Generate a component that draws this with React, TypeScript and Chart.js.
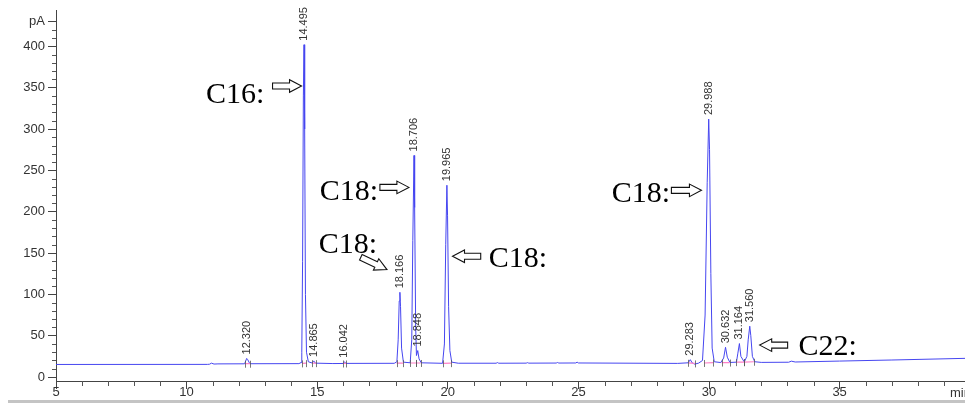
import React, { useEffect, useRef } from "react";
import { Chart, registerables } from "chart.js";

Chart.register(...registerables);

// ---- Chromatogram signal (retention time in min, signal in pA) ----
const retentionTimes = [
  5.0, 10.8, 10.88, 10.95, 11.05, 11.2, 12.22, 12.3, 12.34, 12.42,
  14.3, 14.38, 14.41, 14.44, 14.47, 14.495, 14.52, 14.55, 14.59, 14.66,
  14.8, 14.865, 14.93, 15.6, 16.0, 16.042, 16.1, 17.95, 18.05, 18.1,
  18.14, 18.166, 18.19, 18.23, 18.3, 18.56, 18.62, 18.66, 18.706, 18.73,
  18.77, 18.8, 18.848, 18.9, 18.98, 19.8, 19.87, 19.92, 19.965, 19.99,
  20.03, 20.08, 20.15, 20.4, 21.85, 21.9, 21.95, 23.0, 23.05, 23.1,
  24.15, 24.2, 24.25, 24.9, 24.95, 25.0, 28.8, 29.2, 29.283, 29.36,
  29.45, 29.6, 29.75, 29.85, 29.93, 29.988, 30.02, 30.07, 30.12, 30.2,
  30.45, 30.56, 30.632, 30.7, 30.8, 31.05, 31.1, 31.164, 31.22, 31.35,
  31.45, 31.5, 31.56, 31.6, 31.66, 31.75, 32.0, 33.05, 33.15, 33.3,
  35.0, 37.0, 39.8,
];
const signalPA = [
  15.2, 15.3, 15.5, 16.8, 15.7, 15.9, 16.0, 22.5, 21.0, 16.1,
  16.2, 17.5, 30, 140, 340, 402, 300, 100, 30, 18.5,
  17.0, 19.5, 16.8, 16.3, 16.4, 18.5, 16.5, 16.6, 18.5, 45,
  92, 102.5, 85, 35, 18, 17.2, 45, 165, 268, 205,
  60, 26, 32, 22, 17.2, 16.6, 40, 160, 232, 195,
  85, 32, 18, 16.7, 16.7, 17.5, 16.7, 16.8, 17.4, 16.8,
  16.9, 17.6, 16.9, 17.0, 18.0, 17.0, 16.5, 17.2, 21.0, 17.0,
  15.6, 16.8, 20, 75, 235, 312, 275, 125, 35, 18.5,
  17.5, 23, 36, 24, 17.6, 18.0, 28, 40.5, 25, 18.2,
  25, 45, 61.5, 50, 25, 18.5, 17.7, 17.9, 19.2, 18.2,
  19.3, 20.6, 22.6,
];

// ---- Peak annotations (apex retention time and apex height) ----
const peakTimes = [12.32, 14.495, 14.865, 16.042, 18.166, 18.706, 18.848, 19.965, 29.283, 29.988, 30.632, 31.164, 31.56];
const peakHeights = [22.5, 402, 19.5, 18.5, 102.5, 268, 32, 232, 21, 312, 36, 40.5, 61.5];
const peakLabels = ["12.320", "14.495", "14.865", "16.042", "18.166", "18.706", "18.848", "19.965", "29.283", "29.988", "30.632", "31.164", "31.560"];

// ---- Integration baselines ----
const integStart = [12.25, 14.43, 14.8, 16.0, 18.04, 18.57, 18.78, 19.82, 29.2, 29.81, 30.48, 31.05, 31.33];
const integEnd = [12.42, 14.59, 14.95, 16.1, 18.29, 18.78, 18.96, 20.14, 29.45, 30.16, 30.79, 31.33, 31.72];
const integLevelStart = [16.1, 16.5, 16.8, 16.4, 16.8, 17.0, 17.0, 16.6, 17.2, 17.0, 17.5, 18.0, 18.0];
const integLevelEnd = [16.1, 16.8, 16.8, 16.4, 16.8, 17.0, 17.0, 16.8, 16.5, 17.5, 17.5, 18.0, 18.5];

// ---- Axes ----
const xMin = 5;
const xMax = 39.8;
const yMin = -4.8;
const yMax = 443;
const xMajorTicks = [5, 10, 15, 20, 25, 30, 35];
const xMinorTicks = [6, 7, 8, 9, 11, 12, 13, 14, 16, 17, 18, 19, 21, 22, 23, 24, 26, 27, 28, 29, 31, 32, 33, 34, 36, 37, 38, 39];
const yMajorTicks = [0, 50, 100, 150, 200, 250, 300, 350, 400];
const yUnitTick = 430;
const yUnitLabel = "pA";
const xUnitLabel = "min";

// ---- Text callouts (data coordinates) ----
const calloutTexts = ["C16:", "C18:", "C18:", "C18:", "C18:", "C22:"];
const calloutTextX = [10.74, 15.1, 15.06, 21.57, 26.28, 33.43];
const calloutTextY = [332, 213.7, 149.7, 133.2, 211.6, 26.6];
const arrowTailX = [13.29, 17.4, 16.67, 21.26, 28.56, 33.01];
const arrowTailY = [352, 229.4, 144.9, 146.1, 225.8, 38.6];
const arrowTipX = [14.4, 18.51, 17.67, 20.18, 29.71, 31.94];
const arrowTipY = [352, 229.4, 130.0, 146.1, 225.8, 38.6];

const SANS = '"Liberation Sans", Arial, sans-serif';
const SERIF = '"Liberation Serif", "Times New Roman", serif';

function drawBlockArrow(ctx: CanvasRenderingContext2D, x0: number, y0: number, x1: number, y1: number) {
  const dx = x1 - x0;
  const dy = y1 - y0;
  const len = Math.hypot(dx, dy);
  const ux = dx / len;
  const uy = dy / len;
  const nx = -uy;
  const ny = ux;
  const headLen = 12;
  const shaftHalf = 3;
  const headHalf = 6.3;
  const neckX = x1 - ux * headLen;
  const neckY = y1 - uy * headLen;
  ctx.save();
  ctx.beginPath();
  ctx.moveTo(x0 + nx * shaftHalf, y0 + ny * shaftHalf);
  ctx.lineTo(neckX + nx * shaftHalf, neckY + ny * shaftHalf);
  ctx.lineTo(neckX + nx * headHalf, neckY + ny * headHalf);
  ctx.lineTo(x1, y1);
  ctx.lineTo(neckX - nx * headHalf, neckY - ny * headHalf);
  ctx.lineTo(neckX - nx * shaftHalf, neckY - ny * shaftHalf);
  ctx.lineTo(x0 - nx * shaftHalf, y0 - ny * shaftHalf);
  ctx.closePath();
  ctx.fillStyle = "#ffffff";
  ctx.fill();
  ctx.strokeStyle = "#111111";
  ctx.lineWidth = 1.1;
  ctx.stroke();
  ctx.restore();
}

const overlayPlugin = {
  id: "chromOverlay",
  afterDraw(chart: any) {
    const { ctx, chartArea } = chart;
    const xs = chart.scales.x;
    const ys = chart.scales.y;
    ctx.save();

    // minor ticks
    ctx.strokeStyle = "#555555";
    ctx.lineWidth = 1;
    ctx.beginPath();
    for (let v = 10; v < yUnitTick + 1; v += 10) {
      if (yMajorTicks.includes(v) || v === yUnitTick) continue;
      const py = Math.round(ys.getPixelForValue(v)) + 0.5;
      ctx.moveTo(chartArea.left - 4, py);
      ctx.lineTo(chartArea.left, py);
    }
    xMinorTicks.forEach((v) => {
      const px = Math.round(xs.getPixelForValue(v)) + 0.5;
      ctx.moveTo(px, chartArea.bottom);
      ctx.lineTo(px, chartArea.bottom + 5);
    });
    ctx.stroke();

    // integration boundary markers
    ctx.strokeStyle = "#555555";
    ctx.lineWidth = 0.8;
    ctx.beginPath();
    for (let i = 0; i < integStart.length; i++) {
      const pts: [number, number][] = [
        [integStart[i], integLevelStart[i]],
        [integEnd[i], integLevelEnd[i]],
      ];
      pts.forEach(([t, l]) => {
        const px = Math.round(xs.getPixelForValue(t)) + 0.5;
        const py = ys.getPixelForValue(l);
        ctx.moveTo(px, py - 3);
        ctx.lineTo(px, py + 4);
      });
    }
    ctx.stroke();

    // peak labels (rotated)
    ctx.fillStyle = "#333333";
    ctx.font = `11px ${SANS}`;
    ctx.textAlign = "left";
    ctx.textBaseline = "middle";
    peakTimes.forEach((t, i) => {
      const px = xs.getPixelForValue(t);
      const py = ys.getPixelForValue(peakHeights[i]);
      ctx.save();
      ctx.translate(px, py - 4);
      ctx.rotate(-Math.PI / 2);
      ctx.fillText(peakLabels[i], 0, 0);
      ctx.restore();
    });

    // callouts
    calloutTexts.forEach((txt, i) => {
      ctx.fillStyle = "#000000";
      ctx.font = `30px ${SERIF}`;
      ctx.textAlign = "left";
      ctx.textBaseline = "alphabetic";
      ctx.fillText(txt, xs.getPixelForValue(calloutTextX[i]), ys.getPixelForValue(calloutTextY[i]));
      drawBlockArrow(
        ctx,
        xs.getPixelForValue(arrowTailX[i]),
        ys.getPixelForValue(arrowTailY[i]),
        xs.getPixelForValue(arrowTipX[i]),
        ys.getPixelForValue(arrowTipY[i])
      );
    });

    // x unit label
    ctx.fillStyle = "#333333";
    ctx.font = `13px ${SANS}`;
    ctx.textAlign = "left";
    ctx.textBaseline = "middle";
    ctx.fillText(xUnitLabel, 950, 393);

    // bottom frame line
    ctx.fillStyle = "#c4c4c4";
    ctx.fillRect(8, 400, 957, 3);

    ctx.restore();
  },
};

export default function App() {
  const canvasRef = useRef<HTMLCanvasElement | null>(null);

  useEffect(() => {
    if (!canvasRef.current) return;
    const signalPoints = retentionTimes.map((t, i) => ({ x: t, y: signalPA[i] }));
    const baselinePoints: { x: number; y: number | null }[] = [];
    integStart.forEach((s, i) => {
      baselinePoints.push({ x: s, y: integLevelStart[i] });
      baselinePoints.push({ x: integEnd[i], y: integLevelEnd[i] });
      baselinePoints.push({ x: integEnd[i] + 0.001, y: null });
    });

    const chart = new Chart(canvasRef.current, {
      type: "line",
      data: {
        datasets: [
          {
            data: baselinePoints as any,
            borderColor: "#ff7fc8",
            borderWidth: 1.2,
            pointRadius: 0,
            spanGaps: false,
            tension: 0,
          },
          {
            data: signalPoints,
            borderColor: "#4646f0",
            borderWidth: 1,
            pointRadius: 0,
            tension: 0,
          },
        ],
      },
      options: {
        animation: false,
        responsive: false,
        maintainAspectRatio: false,
        events: [],
        layout: { padding: { top: 10, right: 0, left: 0, bottom: 0 } },
        plugins: { legend: { display: false }, tooltip: { enabled: false }, title: { display: false } },
        scales: {
          x: {
            type: "linear",
            min: xMin,
            max: xMax,
            afterBuildTicks: (scale: any) => {
              scale.ticks = xMajorTicks.map((v) => ({ value: v }));
            },
            afterFit: (scale: any) => {
              scale.height = 23;
            },
            border: { display: true, color: "#444444", width: 1 },
            grid: { display: true, drawOnChartArea: false, drawTicks: true, tickLength: 8, tickColor: "#444444" },
            ticks: {
              autoSkip: false,
              maxRotation: 0,
              padding: -4,
              color: "#333333",
              font: { family: SANS, size: 13 },
              callback: (v: any) => String(v),
            },
          },
          y: {
            type: "linear",
            min: yMin,
            max: yMax,
            afterBuildTicks: (scale: any) => {
              scale.ticks = [...yMajorTicks, yUnitTick].map((v) => ({ value: v }));
            },
            afterFit: (scale: any) => {
              scale.width = 56;
            },
            border: { display: true, color: "#444444", width: 1 },
            grid: { display: true, drawOnChartArea: false, drawTicks: true, tickLength: 8, tickColor: "#444444" },
            ticks: {
              autoSkip: false,
              padding: 3,
              color: "#333333",
              font: { family: SANS, size: 13 },
              callback: (v: any) => (v === yUnitTick ? yUnitLabel : String(v)),
            },
          },
        },
      },
      plugins: [overlayPlugin],
    });
    return () => chart.destroy();
  }, []);

  return (
    <div style={{ position: "fixed", left: 0, top: 0, width: 965, height: 404, background: "#ffffff" }}>
      <canvas ref={canvasRef} width={965} height={404} style={{ width: 965, height: 404, display: "block" }} />
    </div>
  );
}
